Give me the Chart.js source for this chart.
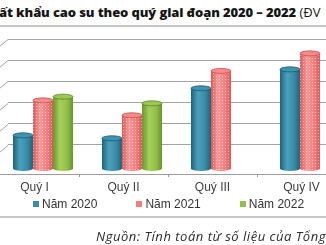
<!DOCTYPE html>
<html lang="vi">
<head>
<meta charset="utf-8">
<script src="https://cdn.jsdelivr.net/npm/chart.js@4.4.1/dist/chart.umd.min.js"></script>
<style>
  html, body { margin: 0; padding: 0; background: #fff; }
  body {
    width: 326px; height: 245px; overflow: hidden; position: relative;
    font-family: "Liberation Sans", Arial, sans-serif;
  }
  #title {
    position: absolute; left: -1px; top: 3px; white-space: nowrap;
    font-family: "Open Sans", sans-serif; font-size: 13px; color: #161616;
  }
  #title b { font-weight: 800; }
  .rule { position: absolute; left: 0; width: 326px; height: 2px; background: #c6c6c6; }
  #chart-box { position: absolute; left: -10px; top: 0; width: 356px; height: 200px; }
  #legend {
    position: absolute; left: 33px; top: 197px; display: flex; gap: 39px;
    font-size: 12px; color: #333; white-space: nowrap;
  }
  #legend span.item { display: flex; align-items: center; gap: 3px; }
  #legend i { display: inline-block; width: 6px; height: 6px; }
  #source {
    position: absolute; left: 96px; top: 227px; white-space: nowrap;
    font-family: "Open Sans", sans-serif; font-style: italic; font-size: 13px; color: #2a2a2a;
  }
</style>
</head>
<body>
<div id="title"><b>ất khẩu cao su theo quý giai đoạn 2020 – 2022</b> (ĐV</div>
<div class="rule" style="top:25px"></div>
<div id="chart-box"><canvas id="rubberChart"></canvas></div>
<div id="legend"></div>
<div class="rule" style="top:216px"></div>
<div id="source">Nguồn: Tính toán từ số liệu của Tổng</div>

<script>
// quarterly rubber exports, million USD
const quarters = ["Quý I", "Quý II", "Quý III", "Quý IV"];
const years = ["Năm 2020", "Năm 2021", "Năm 2022"];
const exports2020 = [314, 286, 758, 937];
const exports2021 = [644, 503, 922, 1088];
const exports2022 = [679, 616, null, null];
const yMax = 1200;
const yStep = 200;

// colours for each year: flat, dark edge, highlight, cap
const shades = [
  { base: "#3a8ca7", dark: "#1f6379", light: "#4aa0bb", cap: "#3f93ad", edge: "#1d5e72" },
  { base: "#f27f7f", dark: "#d65a5a", light: "#f99a9a", cap: "#f58b8b", edge: "#c94f4f", dots: true },
  { base: "#92bf4b", dark: "#6b952a", light: "#a6cf5c", cap: "#9cc755", edge: "#5f8724" }
];

const DEPTH_X = 8.5;  // 3D depth shift of the bars
const DEPTH_Y = 2.5;
const WALL_X = 18;    // left wall corner, canvas coords

let dotPattern = null;
function getDots(ctx) {
  if (dotPattern) return dotPattern;
  const c = document.createElement("canvas");
  c.width = 3; c.height = 3;
  const g = c.getContext("2d");
  g.fillStyle = "rgba(255,255,255,0.45)";
  g.fillRect(1, 1, 1, 1);
  dotPattern = ctx.createPattern(c, "repeat");
  return dotPattern;
}

function drawCylinder(ctx, cx, topY, botY, w, shade) {
  const l = cx - w / 2, r = cx + w / 2, rx = w / 2, ry = 2.5;
  ctx.save();
  ctx.beginPath();
  ctx.moveTo(l, topY);
  ctx.lineTo(l, botY);
  ctx.ellipse(cx, botY, rx, ry, 0, Math.PI, 0, true);
  ctx.lineTo(r, topY);
  ctx.closePath();
  const g = ctx.createLinearGradient(l, 0, r, 0);
  g.addColorStop(0, shade.dark);
  g.addColorStop(0.35, shade.light);
  g.addColorStop(0.7, shade.base);
  g.addColorStop(1, shade.dark);
  ctx.fillStyle = g;
  ctx.fill();
  if (shade.dots) {
    ctx.fillStyle = getDots(ctx);
    ctx.fill();
  }
  // top cap
  ctx.beginPath();
  ctx.ellipse(cx, topY, rx, ry, 0, 0, Math.PI * 2);
  ctx.fillStyle = shade.cap;
  ctx.fill();
  ctx.lineWidth = 0.8;
  ctx.strokeStyle = shade.edge;
  ctx.stroke();
  ctx.restore();
}

const cylinders = {
  id: "cylinders",
  beforeDatasetsDraw(chart) {
    const ctx = chart.ctx;
    const area = chart.chartArea;
    const y = chart.scales.y;

    // side wall: clear grid left of the corner and draw the slanted stubs
    ctx.save();
    ctx.fillStyle = "#fff";
    ctx.fillRect(0, area.top - 2, WALL_X, area.bottom - area.top - 1);
    ctx.strokeStyle = "#a3a3a3";
    ctx.lineWidth = 1;
    y.ticks.forEach((t) => {
      if (t.value < 0) return;
      const py = Math.round(y.getPixelForValue(t.value)) + 0.5;
      ctx.beginPath();
      ctx.moveTo(WALL_X, py);
      ctx.lineTo(WALL_X - 8, py + 6.6);
      ctx.stroke();
    });
    ctx.restore();

    chart.data.datasets.forEach((ds, i) => {
      const meta = chart.getDatasetMeta(i);
      meta.data.forEach((bar, j) => {
        if (ds.data[j] == null) return;
        drawCylinder(ctx, bar.x + DEPTH_X, bar.y + DEPTH_Y, bar.base + DEPTH_Y, bar.width, shades[i]);
      });
    });
    return false;
  }
};

const ctx = document.getElementById("rubberChart").getContext("2d");
const rubberChart = new Chart(ctx, {
  type: "bar",
  data: {
    labels: quarters,
    datasets: [
      { label: years[0], data: exports2020, backgroundColor: shades[0].base },
      { label: years[1], data: exports2021, backgroundColor: shades[1].base },
      { label: years[2], data: exports2022, backgroundColor: shades[2].base }
    ]
  },
  options: {
    responsive: true,
    maintainAspectRatio: false,
    animation: false,
    events: [],
    layout: { padding: { top: 39, left: 0, right: 0, bottom: 0 } },
    datasets: { bar: { categoryPercentage: 0.675, barPercentage: 1 } },
    plugins: { legend: { display: false }, tooltip: { enabled: false } },
    scales: {
      x: {
        afterFit: (s) => { s.height = 26; },
        grid: {
          offset: true,
          drawOnChartArea: false,
          drawTicks: true,
          tickLength: 3,
          color: "#9c9c9c"
        },
        border: { display: true, color: "#9c9c9c", width: 1 },
        ticks: {
          color: "#404040",
          padding: 3,
          font: { family: "'Liberation Sans', Arial, sans-serif", size: 12 }
        }
      },
      y: {
        min: -75,
        max: yMax,
        afterFit: (s) => { s.width = 0; },
        grid: {
          drawTicks: false,
          color: (c) => (c.tick && c.tick.value < 0 ? "rgba(0,0,0,0)" : "#a3a3a3"),
          lineWidth: 1
        },
        border: { display: false },
        ticks: { display: false, stepSize: yStep }
      }
    }
  },
  plugins: [cylinders]
});

// legend built from the chart's datasets
const legend = document.getElementById("legend");
rubberChart.data.datasets.forEach((ds) => {
  const item = document.createElement("span");
  item.className = "item";
  const box = document.createElement("i");
  box.style.background = ds.backgroundColor;
  const txt = document.createElement("span");
  txt.textContent = ds.label;
  item.appendChild(box);
  item.appendChild(txt);
  legend.appendChild(item);
});

// stretch title and source lines to the widths seen in the picture
function fitWidth(el, target) {
  const n = el.textContent.length;
  const w = el.getBoundingClientRect().width;
  el.style.letterSpacing = ((target - w) / n) + "px";
}
fitWidth(document.querySelector("#title b"), 297);
fitWidth(document.getElementById("source"), 230);
</script>
</body>
</html>
